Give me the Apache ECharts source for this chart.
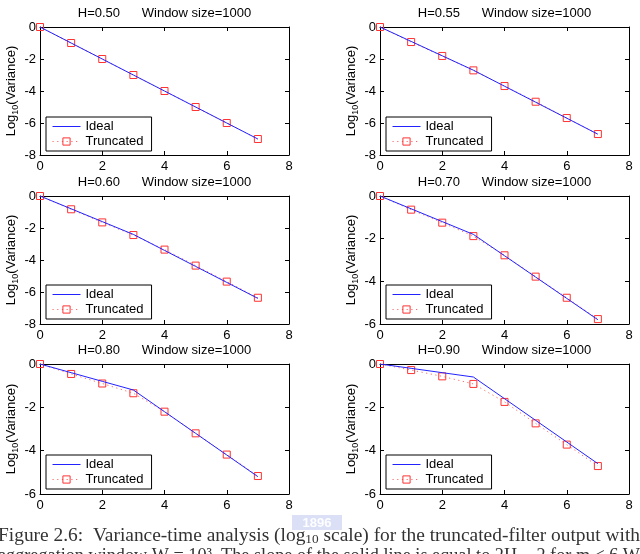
<!DOCTYPE html>
<html>
<head>
<meta charset="utf-8">
<script src="https://cdn.jsdelivr.net/npm/echarts@6/dist/echarts.min.js"></script>
<style>
html, body {margin: 0; padding: 0; background: #fff;}
#container {width: 640px; height: 554px;}
</style>
</head>
<body>
<div id="container"></div>
<script>
// 初始化echarts实例
var myChart = echarts.init(document.getElementById('container'));

// 横轴: log10(m)
var xValues = [0, 1, 2, 3, 4, 5, 6, 7];
var hurst = ['0.50', '0.55', '0.60', '0.70', '0.80', '0.90'];
var windowSize = 1000;

// 每个H值的理想曲线与截断曲线
var ideal050 = [0, -1, -2, -3, -4, -5, -6, -7];
var trunc050 = [0, -1, -2, -3, -4, -5, -6, -7];
var ideal055 = [0, -0.9, -1.8, -2.7, -3.7, -4.7, -5.7, -6.7];
var trunc055 = [0, -0.94, -1.81, -2.71, -3.69, -4.67, -5.69, -6.69];
var ideal060 = [0, -0.8, -1.6, -2.4, -3.4, -4.4, -5.4, -6.4];
var trunc060 = [0, -0.83, -1.65, -2.44, -3.35, -4.35, -5.35, -6.36];
var ideal070 = [0, -0.6, -1.2, -1.8, -2.8, -3.8, -4.8, -5.8];
var trunc070 = [0, -0.64, -1.25, -1.88, -2.78, -3.78, -4.77, -5.77];
var ideal080 = [0, -0.4, -0.8, -1.2, -2.2, -3.2, -4.2, -5.2];
var trunc080 = [0, -0.46, -0.9, -1.35, -2.2, -3.2, -4.18, -5.17];
var ideal090 = [0, -0.2, -0.4, -0.6, -1.6, -2.6, -3.6, -4.6];
var trunc090 = [0, -0.28, -0.57, -0.92, -1.75, -2.74, -3.72, -4.71];

var idealList = [ideal050, ideal055, ideal060, ideal070, ideal080, ideal090];
var truncList = [trunc050, trunc055, trunc060, trunc070, trunc080, trunc090];

// 坐标轴范围
var xMin = 0, xMax = 8, xStep = 2;
var yMins = [-8, -8, -8, -6, -6, -6];
var yStep = 2;

// 图注文字
var captionLine1a = 'Figure 2.6:  Variance-time analysis (log';
var captionLine1b = '10';
var captionLine1c = ' scale) for the truncated-filter output with';
var captionLine2 = 'aggregation window W = 10\u00b3. The slope of the solid line is equal to 2H \u2212 2 for m \u2264 6 W';

// 面板布局
var colLeft = [40, 380];
var rowTop = [27, 196, 364];
var rowHeight = [128, 128, 130];
var plotWidth = 249;
var sansFont = '"Liberation Sans", Helvetica, Arial, sans-serif';
var serifFont = '"Liberation Serif", "DejaVu Serif", serif';
var blue = '#2222ff', red = '#ff3333';

var grids = [], xAxes = [], yAxes = [], series = [], legends = [], graphics = [];

function toPoints(vals) {
    return xValues.map(function (x, k) { return [x, vals[k]]; });
}
function tickStyle() {
    return {show: true, inside: true, length: 4, lineStyle: {color: '#000', width: 1}};
}
function axisLineStyle() {
    return {show: true, onZero: false, lineStyle: {color: '#000', width: 1}};
}

for (var i = 0; i < 6; i++) {
    var col = i % 2, row = Math.floor(i / 2);
    var gLeft = colLeft[col], gTop = rowTop[row], gH = rowHeight[row];
    grids.push({left: gLeft, top: gTop, width: plotWidth, height: gH});

    xAxes.push({
        type: 'value', gridIndex: i, min: xMin, max: xMax, interval: xStep, position: 'bottom',
        axisLine: axisLineStyle(), axisTick: tickStyle(), splitLine: {show: false},
        axisLabel: {color: '#000', fontSize: 13, fontFamily: sansFont, margin: 5}
    });
    xAxes.push({
        type: 'value', gridIndex: i, min: xMin, max: xMax, interval: xStep, position: 'top',
        axisLine: axisLineStyle(), axisTick: tickStyle(), splitLine: {show: false}, axisLabel: {show: false}
    });
    yAxes.push({
        type: 'value', gridIndex: i, min: yMins[i], max: 0, interval: yStep, position: 'left',
        axisLine: axisLineStyle(), axisTick: tickStyle(), splitLine: {show: false},
        axisLabel: {color: '#000', fontSize: 13, fontFamily: sansFont, margin: 4},
        name: '{a|Log}{s|10}{a|(Variance)}',
        nameLocation: 'middle', nameRotate: 90, nameGap: 20,
        nameTextStyle: {
            color: '#000', fontFamily: sansFont,
            rich: {
                a: {fontSize: 13, lineHeight: 18, fontFamily: sansFont, color: '#000'},
                s: {fontSize: 9, verticalAlign: 'bottom', fontFamily: sansFont, color: '#000'}
            }
        }
    });
    yAxes.push({
        type: 'value', gridIndex: i, min: yMins[i], max: 0, interval: yStep, position: 'right',
        axisLine: axisLineStyle(), axisTick: tickStyle(), splitLine: {show: false}, axisLabel: {show: false}
    });

    series.push({
        name: 'Ideal', type: 'line', xAxisIndex: 2 * i, yAxisIndex: 2 * i,
        symbol: 'none', silent: true, z: 3,
        lineStyle: {color: blue, width: 1},
        itemStyle: {color: blue},
        data: toPoints(idealList[i])
    });
    series.push({
        name: 'Truncated', type: 'line', xAxisIndex: 2 * i, yAxisIndex: 2 * i,
        symbol: 'rect', symbolSize: 7, silent: true, z: 2,
        lineStyle: {color: '#ff4444', width: 1, type: [1.2, 3.5], opacity: 0.8},
        itemStyle: {color: 'rgba(255,255,255,0)', borderColor: red, borderWidth: 1},
        data: toPoints(truncList[i])
    });

    legends.push({
        left: gLeft + 6, top: (gTop + gH - 39) | 1, orient: 'vertical',
        data: [
            {name: 'Ideal', itemStyle: {opacity: 0}, lineStyle: {color: blue, width: 1, type: 'solid'}},
            {name: 'Truncated', itemStyle: {color: 'rgba(255,255,255,0)', borderColor: red, borderWidth: 1},
                lineStyle: {color: '#ff4444', width: 1, type: [1.2, 3.5]}}
        ],
        selectedMode: false,
        itemWidth: 28, itemHeight: 9, itemGap: 2, padding: [3, 8, 3, 6],
        borderColor: '#000', borderWidth: 1, backgroundColor: '#fff',
        textStyle: {fontSize: 13, color: '#000', fontFamily: sansFont}
    });

    graphics.push({
        type: 'text', x: gLeft + plotWidth / 2, y: gTop - 14,
        style: {
            text: 'H=' + hurst[i] + '      Window size=' + windowSize,
            font: '13px ' + sansFont, fill: '#000',
            align: 'center', verticalAlign: 'middle'
        }
    });
}

// 图注宽度按两端对齐拉伸
var ctx = document.createElement('canvas').getContext('2d');
ctx.font = '19px ' + serifFont;
var w1 = ctx.measureText(captionLine1a + captionLine1c).width;
var w2 = ctx.measureText(captionLine2).width;
ctx.font = '13px ' + serifFont;
w1 += ctx.measureText(captionLine1b).width;
var span = 642;

graphics.push({
    type: 'text', x: -2, y: 546, scaleX: span / w1, scaleY: 1,
    style: {
        text: '{r|' + captionLine1a + '}{s|' + captionLine1b + '}{r|' + captionLine1c + '}',
        verticalAlign: 'bottom', fill: '#333',
        rich: {
            r: {fontSize: 19, fontFamily: serifFont, lineHeight: 20},
            s: {fontSize: 13, fontFamily: serifFont, verticalAlign: 'bottom'}
        }
    }
});
graphics.push({
    type: 'text', x: -2, y: 566, scaleX: span / w2, scaleY: 1,
    style: {
        text: captionLine2, font: '19px ' + serifFont, fill: '#333',
        verticalAlign: 'bottom'
    }
});
// 水印
graphics.push({
    type: 'rect', x: 292, y: 515, z: 100,
    shape: {x: 0, y: 0, width: 50, height: 15}, style: {fill: 'rgba(110,130,225,0.25)'}
});
graphics.push({
    type: 'text', x: 317, y: 523, z: 101,
    style: {text: '1896', font: 'bold 13px ' + sansFont, fill: 'rgba(255,255,255,0.95)', align: 'center', verticalAlign: 'middle'}
});

var option = {
    backgroundColor: '#fff',
    animation: false,
    grid: grids,
    xAxis: xAxes,
    yAxis: yAxes,
    legend: legends,
    series: series,
    graphic: graphics
};
myChart.setOption(option, true);

window.onresize = function () {
    myChart.resize();
};
</script>
</body>
</html>
